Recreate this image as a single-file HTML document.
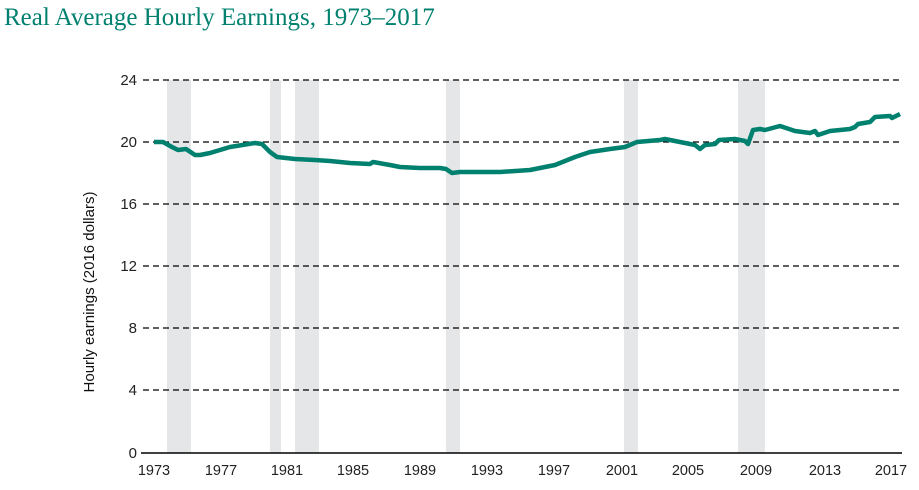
<!DOCTYPE html>
<html><head><meta charset="utf-8"><style>
body{margin:0;background:#fff;width:919px;height:485px;overflow:hidden}
</style></head><body>
<svg width="919" height="485" xmlns="http://www.w3.org/2000/svg">
<text x="4" y="25" font-family="Liberation Serif, serif" font-size="25" fill="#00806e">Real Average Hourly Earnings, 1973–2017</text>
<g fill="#e5e6e8">
<rect x="167" y="80" width="24" height="373"/>
<rect x="270" y="80" width="11" height="373"/>
<rect x="295" y="80" width="24" height="373"/>
<rect x="446" y="80" width="14" height="373"/>
<rect x="624" y="80" width="14" height="373"/>
<rect x="738" y="80" width="27" height="373"/>
</g>
<g stroke="#000" stroke-width="1.2" stroke-dasharray="6,4">
<line x1="143" x2="902" y1="80" y2="80"/>
<line x1="143" x2="902" y1="142" y2="142"/>
<line x1="143" x2="902" y1="204" y2="204"/>
<line x1="143" x2="902" y1="266" y2="266"/>
<line x1="143" x2="902" y1="328" y2="328"/>
<line x1="143" x2="902" y1="390" y2="390"/>
</g>
<line x1="141" x2="902" y1="453" y2="453" stroke="#000" stroke-width="1.5"/>
<g font-family="Liberation Sans, sans-serif" font-size="15" fill="#222" text-anchor="end">
<text x="137" y="85">24</text><text x="137" y="147">20</text><text x="137" y="209">16</text>
<text x="137" y="271">12</text><text x="137" y="333">8</text><text x="137" y="395">4</text><text x="137" y="458">0</text>
</g>
<g font-family="Liberation Sans, sans-serif" font-size="14.5" fill="#222" text-anchor="middle">
<text x="154" y="475">1973</text><text x="221" y="475">1977</text><text x="287" y="475">1981</text>
<text x="353" y="475">1985</text><text x="420" y="475">1989</text><text x="487" y="475">1993</text>
<text x="554" y="475">1997</text><text x="622" y="475">2001</text><text x="688" y="475">2005</text>
<text x="756" y="475">2009</text><text x="825" y="475">2013</text><text x="891" y="475">2017</text>
</g>
<text transform="translate(94,292) rotate(-90)" font-family="Liberation Sans, sans-serif" font-size="15" fill="#111" text-anchor="middle">Hourly earnings (2016 dollars)</text>
<polyline fill="none" stroke="#00806e" stroke-width="4.5" stroke-linejoin="round" points="154,142 163,142 172,147 178,150 186,149 195,155 200,155 210,153 230,147 255,143 262,144 270,152 277,157 295,159 315,160 330,161 350,163 370,164 373,162 390,165 400,167 420,168 440,168 446,169 452,173 460,172 470,172 500,172 530,170 540,168 555,165 575,157 590,152 610,149 625,147 637,142 660,140 665,139 680,142 695,145 700,149 705,145 715,144 719,140 735,139 745,141 748,144 753,130 760,129 765,130 780,126 795,131 810,133 815,131 818,135 830,131 850,129 855,127 858,124 870,122 875,117 890,116 892,118 900,114"/>
</svg>
</body></html>
